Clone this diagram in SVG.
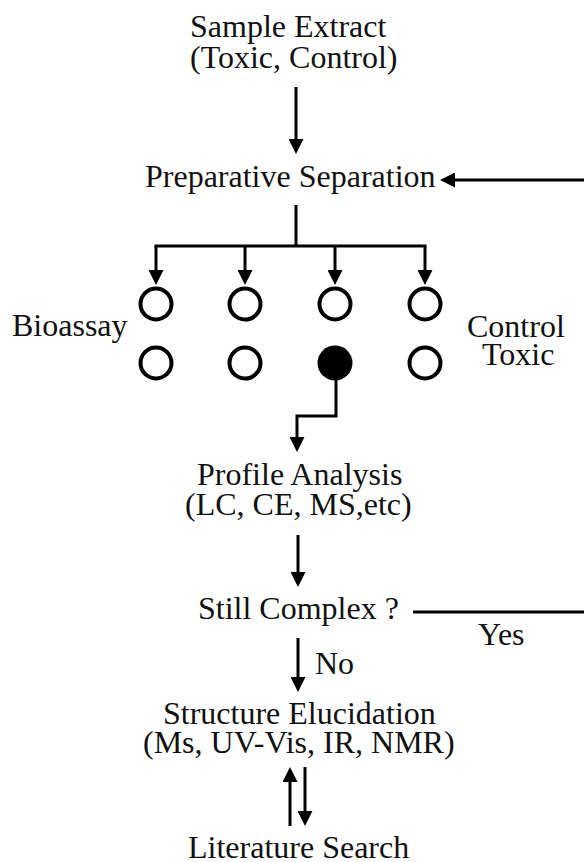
<svg xmlns="http://www.w3.org/2000/svg" width="584" height="862" viewBox="0 0 584 862">
<style>
text{font-family:"Liberation Serif","Times New Roman",serif;font-size:32px;fill:#111;}
.c{fill:none;stroke:#000;stroke-width:3;}
.a{marker-end:url(#ah);}
.well{fill:#fff;stroke:#000;stroke-width:4;}
.hit{fill:#000;stroke:none;}
</style>
<defs>
<marker id="ah" viewBox="0 0 15 15" refX="7" refY="7.5" markerWidth="15" markerHeight="15" markerUnits="userSpaceOnUse" orient="auto">
<path d="M0,0 L15,7.5 L0,15 z" fill="#000"/>
</marker>
</defs>
<rect width="584" height="862" fill="#fff"/>
<g id="sample-extract"><text x="190" y="37">Sample Extract</text><text x="190" y="68">(Toxic, Control)</text></g>
<g id="preparative-separation"><text x="145" y="187">Preparative Separation</text></g>
<g id="bioassay-label"><text x="12" y="336">Bioassay</text></g>
<g id="control-toxic-label"><text x="467" y="337">Control</text><text x="482" y="365">Toxic</text></g>
<g id="well-1a"><circle class="well" cx="156" cy="304" r="15.5"/></g>
<g id="well-2a"><circle class="well" cx="245" cy="304" r="15.5"/></g>
<g id="well-3a"><circle class="well" cx="335" cy="304" r="15.5"/></g>
<g id="well-4a"><circle class="well" cx="425" cy="304" r="15.5"/></g>
<g id="well-1b"><circle class="well" cx="156" cy="363" r="15.5"/></g>
<g id="well-2b"><circle class="well" cx="245" cy="363" r="15.5"/></g>
<g id="well-3b"><circle class="hit" cx="335" cy="363" r="17.5"/></g>
<g id="well-4b"><circle class="well" cx="425" cy="363" r="15.5"/></g>
<g id="profile-analysis"><text x="197" y="485">Profile Analysis</text><text x="185" y="515">(LC, CE, MS,etc)</text></g>
<g id="still-complex"><text x="198" y="619">Still Complex ?</text></g>
<g id="structure-elucidation"><text x="163" y="724">Structure Elucidation</text><text x="143" y="753">(Ms, UV-Vis, IR, NMR)</text></g>
<g id="literature-search"><text x="188" y="858">Literature Search</text></g>
<g id="connectors">
<path class="c a" d="M296,87 V146"/>
<path class="c a" d="M584,180 H448"/>
<path class="c" d="M296,205 V246 M154.5,246 H426.5"/>
<path class="c a" d="M156,246 V277"/>
<path class="c a" d="M245,246 V277"/>
<path class="c a" d="M335,246 V277"/>
<path class="c a" d="M425,246 V277"/>
<path class="c a" d="M336,378 V416 H297 V444"/>
<path class="c a" d="M298,535 V579"/>
<path class="c" d="M413,612 H584"/>
<text x="478" y="645">Yes</text>
<path class="c a" d="M298,638 V684"/>
<text x="315" y="674">No</text>
<path class="c a" d="M290,826 V775"/>
<path class="c a" d="M305,767 V818"/>
</g>
</svg>
